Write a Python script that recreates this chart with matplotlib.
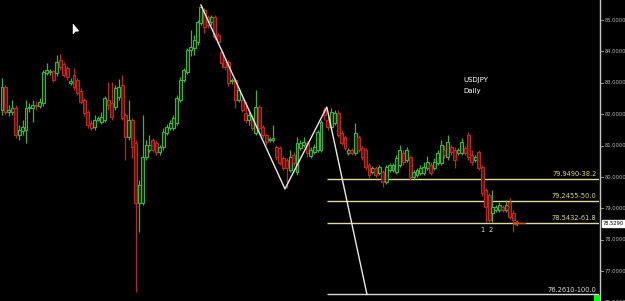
import numpy as np
import matplotlib
matplotlib.use('Agg')
import matplotlib.pyplot as plt
from matplotlib.patches import Rectangle, Polygon

# Daily USDJPY candles
opens = [82.14, 82.87, 82.07, 82.07, 82.20, 81.34, 81.47, 81.50, 82.20, 82.20,
         82.30, 82.26, 82.36, 83.32, 83.35, 83.38, 83.32, 83.73, 83.60, 83.48,
         83.00, 83.25, 83.09, 82.74, 82.46, 82.07, 81.72, 81.60, 81.82, 81.75,
         81.82, 82.46, 82.36, 82.23, 82.55, 82.93, 81.98, 81.28, 81.82, 81.09,
         79.17, 79.17, 80.64, 80.86, 81.18, 81.09, 80.80, 80.96, 81.40, 81.56,
         81.56, 81.72, 82.46, 83.09, 83.35, 84.05, 84.11, 84.30, 84.91, 85.32,
         85.10, 84.94, 85.10, 84.53, 83.98, 83.73, 83.67, 83.06, 83.09, 82.46,
         82.46, 82.04, 81.82, 81.88, 81.40, 82.23, 81.60, 81.34, 81.18, 81.18,
         80.96, 80.93, 80.61, 80.54, 80.23, 80.70, 80.16, 80.93, 81.02, 81.09,
         80.67, 80.80, 80.86, 80.86, 82.14, 81.82, 81.60, 81.72, 82.04, 81.40,
         81.28, 80.77, 80.86, 80.77, 81.28, 80.93, 80.86, 80.39, 80.16, 80.29,
         80.13, 80.16, 79.84, 80.23, 80.23, 80.16, 80.39, 80.77, 80.54, 80.64,
         80.00, 80.06, 80.13, 80.13, 80.29, 80.39, 80.29, 80.45, 80.45, 80.86,
         80.64, 80.96, 80.86, 80.77, 80.77, 80.93, 81.34, 80.70, 80.54, 80.80,
         80.32, 79.59, 79.43, 78.86, 78.95, 78.95, 79.05, 78.95, 79.21, 78.86,
         78.57]
highs = [83.16, 82.93, 82.30, 82.46, 82.30, 81.66, 81.82, 82.46, 82.36, 82.46,
         82.42, 82.52, 83.41, 83.63, 83.44, 83.41, 83.89, 83.92, 83.67, 83.54,
         83.16, 83.48, 83.16, 82.84, 82.52, 82.14, 81.82, 81.98, 81.95, 82.07,
         82.58, 83.03, 83.03, 82.93, 83.12, 83.25, 82.04, 82.46, 81.88, 81.18,
         79.91, 81.98, 81.18, 81.34, 81.25, 81.18, 81.02, 81.56, 81.69, 81.82,
         81.98, 82.61, 83.19, 83.48, 84.11, 84.68, 84.53, 85.00, 85.48, 85.39,
         85.16, 85.16, 85.16, 84.59, 84.05, 83.79, 83.73, 83.16, 83.16, 82.84,
         82.52, 82.39, 82.07, 81.98, 82.77, 82.30, 81.66, 81.40, 81.28, 81.66,
         81.02, 80.99, 80.67, 80.61, 80.86, 80.80, 81.28, 81.18, 81.28, 81.15,
         80.96, 81.05, 81.50, 81.82, 82.23, 81.98, 82.20, 82.14, 82.14, 81.50,
         81.34, 80.93, 80.93, 81.72, 81.34, 80.99, 80.93, 80.45, 80.35, 80.35,
         80.39, 80.23, 80.39, 80.45, 80.45, 80.70, 81.02, 80.86, 80.96, 80.70,
         80.23, 80.29, 80.39, 80.48, 80.67, 80.48, 80.61, 80.86, 81.18, 81.02,
         81.34, 81.02, 80.96, 80.93, 81.25, 80.99, 81.44, 80.86, 80.70, 80.86,
         80.39, 79.65, 79.49, 79.59, 79.11, 79.21, 79.11, 79.27, 79.33, 78.95,
         78.63]
lows = [81.98, 82.01, 81.95, 81.98, 81.25, 81.18, 81.34, 81.09, 82.07, 81.75,
        82.14, 82.20, 82.26, 83.25, 83.25, 83.03, 83.22, 83.41, 83.19, 83.09,
        82.93, 82.77, 82.61, 82.33, 81.95, 81.56, 81.50, 81.50, 81.79, 81.69,
        81.75, 82.14, 81.82, 82.14, 82.46, 81.82, 80.54, 81.18, 80.61, 76.34,
        78.25, 79.11, 80.54, 80.80, 80.80, 80.70, 80.70, 80.86, 81.34, 81.50,
        81.50, 81.66, 82.39, 83.03, 83.28, 83.86, 83.89, 84.21, 84.84, 84.59,
        84.75, 84.84, 84.37, 84.21, 83.48, 83.41, 82.90, 82.97, 82.20, 82.39,
        82.07, 81.72, 81.66, 81.50, 81.34, 81.50, 81.25, 81.02, 81.12, 81.12,
        80.54, 80.39, 80.23, 79.65, 80.16, 80.35, 80.06, 80.86, 80.96, 80.64,
        80.61, 80.74, 80.80, 80.80, 81.82, 81.50, 81.50, 81.66, 81.28, 81.02,
        80.86, 80.70, 80.70, 80.70, 80.80, 80.54, 80.23, 79.97, 80.10, 80.00,
        80.06, 79.68, 79.78, 80.16, 80.16, 80.10, 80.32, 80.39, 80.48, 79.91,
        79.94, 80.00, 80.06, 80.06, 80.23, 80.06, 80.23, 80.39, 80.39, 80.61,
        80.54, 80.70, 80.29, 80.70, 80.70, 80.70, 80.54, 80.39, 80.48, 80.23,
        79.40, 78.57, 78.57, 78.57, 78.89, 78.89, 78.89, 78.89, 78.67, 78.25,
        78.48]
closes = [82.87, 82.07, 82.14, 82.20, 81.34, 81.50, 81.60, 82.20, 82.23, 82.30,
          82.26, 82.39, 83.35, 83.41, 83.38, 83.09, 83.67, 83.51, 83.25, 83.19,
          83.06, 82.87, 82.68, 82.39, 82.04, 81.66, 81.56, 81.82, 81.88, 81.92,
          82.52, 82.30, 81.92, 82.84, 82.87, 81.88, 81.28, 81.82, 80.96, 79.17,
          79.75, 80.64, 81.02, 81.02, 80.86, 80.80, 80.96, 81.44, 81.60, 81.72,
          81.88, 82.52, 83.09, 83.41, 84.05, 84.14, 84.37, 84.94, 85.42, 84.78,
          84.84, 85.10, 84.46, 84.30, 83.63, 83.51, 83.00, 83.09, 82.46, 82.77,
          82.14, 81.82, 81.98, 81.56, 82.23, 81.56, 81.34, 81.12, 81.21, 81.25,
          80.64, 80.45, 80.29, 80.29, 80.64, 80.45, 81.09, 81.09, 81.12, 80.77,
          80.86, 80.96, 81.44, 81.75, 81.98, 81.60, 82.07, 82.04, 81.34, 81.09,
          80.93, 80.86, 80.77, 81.40, 80.86, 80.64, 80.32, 80.06, 80.29, 80.06,
          80.32, 79.84, 80.32, 80.39, 80.39, 80.61, 80.86, 80.48, 80.86, 80.00,
          80.16, 80.23, 80.29, 80.32, 80.48, 80.13, 80.48, 80.77, 81.02, 80.70,
          81.12, 80.80, 80.54, 80.86, 81.12, 80.77, 80.64, 80.48, 80.64, 80.29,
          79.49, 79.05, 78.63, 79.05, 79.05, 79.11, 78.95, 79.11, 78.73, 78.63,
          78.53]

# zigzag swing points (bar index, price)
zig_idx = [58.0, 82.5, 94.7, 106.4]
zig_price = [85.48, 79.62, 82.23, 76.26]

# fibo retracement levels
fib_start = 94.7
fib_values = [79.9490, 79.2455, 78.5432, 76.2610]
fib_labels = ['79.9490-38.2', '79.2455-50.0', '78.5432-61.8', '76.2610-100.0']

price_ticks = [76, 77, 78, 79, 80, 81, 82, 83, 84, 85]
last_price = 78.5290
wave_marks = [(140, '1'), (142.6, '2')]

W, H = 625, 301
fig = plt.figure(figsize=(W / 100, H / 100), dpi=100, facecolor='black')
ax = fig.add_axes([0, 0, 599 / W, 1])
ax.set_facecolor('black')
ax.set_xlim(-0.58, 174.05)
ax.set_ylim(76.05, 85.64)
ax.set_xticks([])
ax.set_yticks([])
for s in ax.spines.values():
    s.set_visible(False)

bw = 0.85
for i, (o, h, l, c) in enumerate(zip(opens, highs, lows, closes)):
    if c >= o:
        edge, face = '#40b040', '#0c2c0c'
    else:
        edge, face = '#b82a24', '#601210'
    ax.vlines(i, l, h, color=edge, lw=0.9, zorder=2)
    bot, top = min(o, c), max(o, c)
    ax.add_patch(Rectangle((i - bw / 2, bot), bw, max(top - bot, 0.02),
                           facecolor=face, edgecolor=edge, lw=0.8, zorder=3))

# zigzag line
ax.plot(zig_idx, zig_price, color='#e8e8e8', lw=1.0, zorder=4)

# fibo levels
for v, lab in zip(fib_values, fib_labels):
    col = '#dcdca0' if v > 77 else '#d8d8d8'
    ax.hlines(v, fib_start, 174.05, color=col, lw=1.0, zorder=1)
    ax.text(173.3, v + 0.05, lab, color='#d8d878' if v > 77 else '#e0e0e0',
            fontsize=4.8, ha='right', va='bottom', zorder=5)

for xi, t in wave_marks:
    ax.text(xi, 78.42, t, color='#e0e0e0', fontsize=4.8, ha='center', va='top')

# last tick arrow marker
ax.plot([149.5, 152.5], [78.54, 78.54], color='#e0501e', lw=0.8, zorder=5)
ax.plot([149.5], [78.54], marker='<', ms=3, color='#e0501e', mfc='none', mew=0.7)

fig.text(463 / W, 1 - 80 / H, 'USDJPY', color='white', fontsize=5, va='center')
fig.text(463 / W, 1 - 91 / H, 'Daily', color='white', fontsize=5, va='center')

# mouse pointer
fig.patches.append(Polygon([[73 / W, 1 - 24 / H], [73 / W, 1 - 34 / H],
                            [75.5 / W, 1 - 31.5 / H], [79 / W, 1 - 31 / H]],
                           closed=True, transform=fig.transFigure,
                           facecolor='white', edgecolor='white', lw=0.3))

# right price scale
ax2 = fig.add_axes([599 / W, 0, 26 / W, 1])
ax2.set_facecolor('black')
ax2.set_ylim(76.05, 85.64)
ax2.set_xlim(0, 1)
ax2.set_xticks([])
ax2.set_yticks([])
for s in ax2.spines.values():
    s.set_visible(False)
ax2.axvline(0.02, color='#c8c8c8', lw=1.0)
for p in price_ticks:
    ax2.plot([0.06, 0.16], [p, p], color='#b0b0b0', lw=0.6)
    ax2.text(0.2, p, f'{p:.4f}', color='#b8b8b8', fontsize=3.7, va='center')
ax2.text(0.14, last_price, f'{last_price:.4f}', color='black', fontsize=3.7,
         va='center', bbox=dict(boxstyle='square,pad=0.2', fc='white', ec='white'))
fig.patches.append(Rectangle((594 / W, 0), 6 / W, 6 / H, transform=fig.transFigure,
                             facecolor='#00ff00', edgecolor='none'))

fig.savefig('out.png', dpi=100, facecolor='black')
